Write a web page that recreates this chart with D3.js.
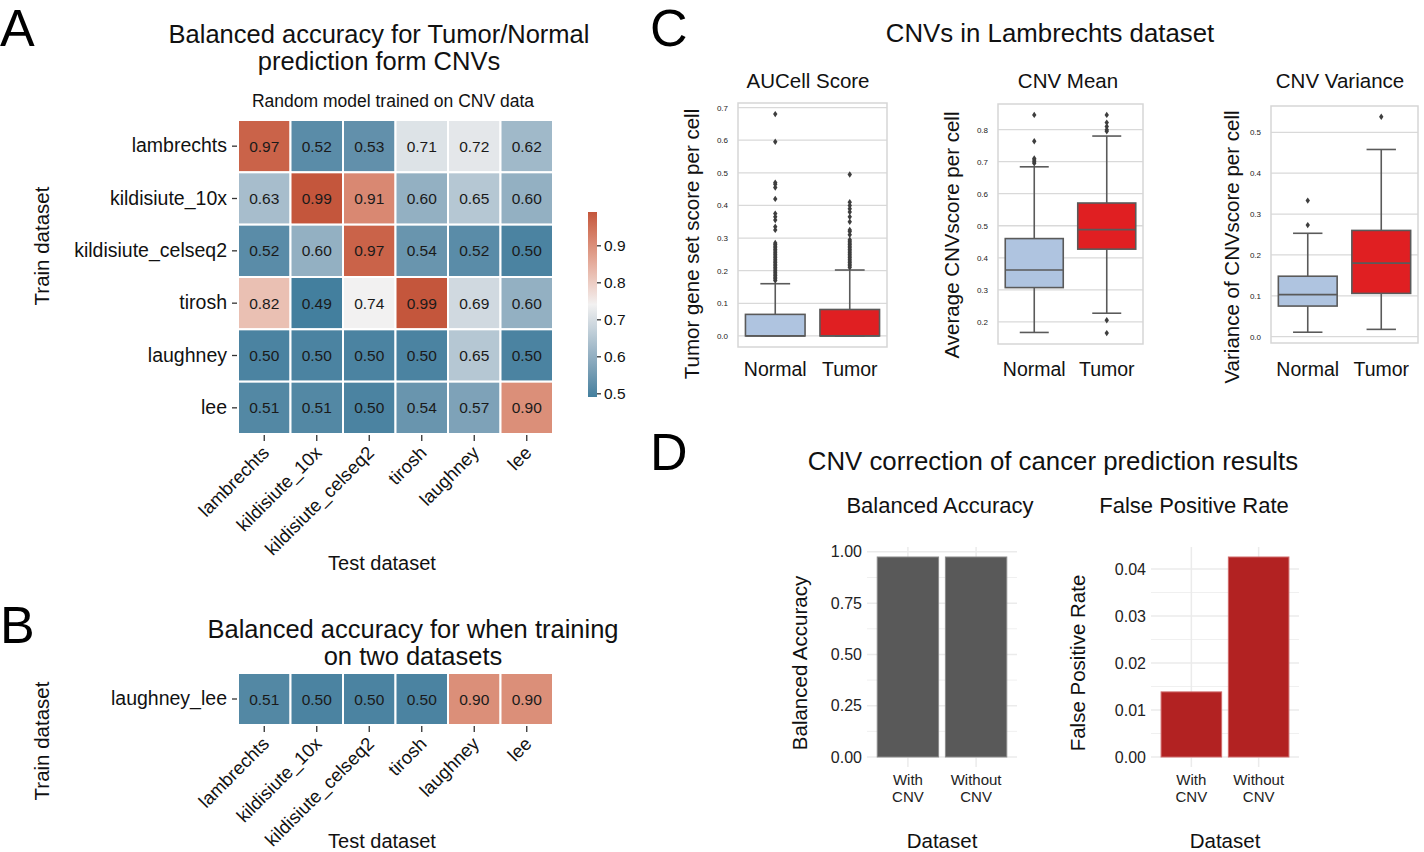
<!DOCTYPE html>
<html><head><meta charset="utf-8">
<script src="https://cdn.jsdelivr.net/npm/d3@7"></script>
<style>
body{margin:0;background:#fff}
svg{display:block}
text{font-family:"Liberation Sans",Arial,Helvetica,sans-serif}
</style>
</head><body>
<svg id="fig" width="1424" height="852"></svg>
<script>
// ---------------- DATA ----------------
const datasets = ["lambrechts","kildisiute_10x","kildisiute_celseq2","tirosh","laughney","lee"];
const accA = [
  [0.97,0.52,0.53,0.71,0.72,0.62],
  [0.63,0.99,0.91,0.60,0.65,0.60],
  [0.52,0.60,0.97,0.54,0.52,0.50],
  [0.82,0.49,0.74,0.99,0.69,0.60],
  [0.50,0.50,0.50,0.50,0.65,0.50],
  [0.51,0.51,0.50,0.54,0.57,0.90]
];
const trainB = ["laughney_lee"];
const accB = [[0.51,0.50,0.50,0.50,0.90,0.90]];
const colorbarTicks = [0.5,0.6,0.7,0.8,0.9];

const boxGroups = ["Normal","Tumor"];
// [lower whisker, Q1, median, Q3, upper whisker]
const aucellBox = [[0.00,0.00,0.00,0.066,0.160],[0.00,0.00,0.00,0.081,0.202]];
const aucellOut = [
  [0.170,0.175,0.180,0.185,0.190,0.195,0.200,0.205,0.210,0.215,0.220,0.225,0.230,0.235,0.240,0.245,0.250,0.255,0.260,0.265,0.270,0.275,0.280,0.285,0.325,0.335,0.355,0.365,0.375,0.420,0.455,0.465,0.470,0.595,0.680],
  [0.210,0.215,0.220,0.225,0.230,0.235,0.240,0.245,0.250,0.255,0.260,0.265,0.270,0.275,0.280,0.285,0.290,0.295,0.310,0.320,0.325,0.350,0.365,0.380,0.390,0.400,0.410,0.495]
];
const aucellTicks = [0.0,0.1,0.2,0.3,0.4,0.5,0.6,0.7];

const cnvMeanBox = [[0.167,0.307,0.362,0.460,0.684],[0.227,0.427,0.488,0.571,0.780]];
const cnvMeanOut = [[0.695,0.700,0.705,0.710,0.764,0.846],[0.795,0.800,0.810,0.822,0.846,0.205,0.165]];
const cnvMeanTicks = [0.2,0.3,0.4,0.5,0.6,0.7,0.8];

const cnvVarBox = [[0.011,0.075,0.103,0.148,0.253],[0.018,0.106,0.180,0.260,0.458]];
const cnvVarOut = [[0.273,0.333],[0.538]];
const cnvVarTicks = [0.0,0.1,0.2,0.3,0.4,0.5];

const dCats = [["With","CNV"],["Without","CNV"]];
const balAcc = [0.975,0.975];
const fpr = [0.01385,0.04255];
const balTicks = [0.00,0.25,0.50,0.75,1.00];
const fprTicks = [0.00,0.01,0.02,0.03,0.04];

// ---------------- SETUP ----------------
const svg = d3.select("#fig");
svg.append("rect").attr("width",1424).attr("height",852).attr("fill","#fff");

function txt(x,y,s,size,opts={}){
  const t = svg.append("text").attr("x",x).attr("y",y).attr("font-size",size)
    .attr("text-anchor",opts.anchor||"middle").attr("fill",opts.fill||"#111").text(s);
  if(opts.rotate) t.attr("transform",`rotate(${opts.rotate},${x},${y})`);
  return t;
}

// panel letters
txt(0,46,"A",52,{anchor:"start",fill:"#000"});
txt(0,643,"B",52,{anchor:"start",fill:"#000"});
txt(650,46,"C",52,{anchor:"start",fill:"#000"});
txt(650,470,"D",52,{anchor:"start",fill:"#000"});

// ---------------- HEATMAPS ----------------
const ext = d3.extent(accA.flat());
const color = d3.scaleLinear().domain([ext[0],(ext[0]+ext[1])/2,ext[1]])
  .range(["#437f9e","#f2f1f1","#c4563c"]).interpolate(d3.interpolateLab);

function heatmap(rows, values, x0, x1, y0, y1){
  const x = d3.scaleBand().domain(datasets).range([x0,x1]);
  const y = d3.scaleBand().domain(rows).range([y0,y1]);
  const g = svg.append("g");
  const cells = [];
  rows.forEach((r,i)=>datasets.forEach((c,j)=>cells.push({r,c,v:values[i][j]})));
  g.selectAll("rect.cell").data(cells).join("rect").attr("class","cell")
    .attr("x",d=>x(d.c)).attr("y",d=>y(d.r)).attr("width",x.bandwidth()).attr("height",y.bandwidth())
    .attr("fill",d=>color(d.v)).attr("stroke","#fff").attr("stroke-width",2);
  g.selectAll("text.val").data(cells).join("text").attr("class","val")
    .attr("x",d=>x(d.c)+x.bandwidth()/2).attr("y",d=>y(d.r)+y.bandwidth()/2)
    .attr("dy","0.36em").attr("text-anchor","middle").attr("font-size",15.5).attr("fill","#1a1a1a")
    .text(d=>d3.format(".2f")(d.v));
  const ya = g.append("g").attr("transform",`translate(${x0-1},0)`)
    .call(d3.axisLeft(y).tickSize(5).tickPadding(5));
  ya.select(".domain").remove();
  ya.selectAll("line").attr("stroke","#333").attr("stroke-width",1.3);
  ya.selectAll("text").attr("font-size",19.5).attr("fill","#111");
  const xa = g.append("g").attr("transform",`translate(0,${y1+1})`)
    .call(d3.axisBottom(x).tickSize(6).tickPadding(3));
  xa.select(".domain").remove();
  xa.selectAll("line").attr("stroke","#333").attr("stroke-width",1.3);
  xa.selectAll("text").attr("font-size",18.5).attr("fill","#111")
    .attr("text-anchor","end").attr("x",0).attr("y",0).attr("dy","0")
    .attr("transform","translate(6,19) rotate(-45)");
  return {x,y};
}

// Panel A
txt(379,43,"Balanced accuracy for Tumor/Normal",25.5);
txt(379,70,"prediction form CNVs",25.5);
txt(393,107,"Random model trained on CNV data",17.5);
heatmap(datasets, accA, 238, 553, 120, 434);
txt(382,570,"Test dataset",20);
txt(49,246,"Train dataset",20.5,{rotate:-90});

// colorbar
(function(){
  const cb = d3.scaleLinear().domain(ext).range([397,212]);
  const defs = svg.append("defs");
  const lg = defs.append("linearGradient").attr("id","cbg").attr("x1",0).attr("x2",0).attr("y1",1).attr("y2",0);
  d3.range(0,1.0001,0.05).forEach(t=>{
    lg.append("stop").attr("offset",t).attr("stop-color",color(ext[0]+t*(ext[1]-ext[0])));
  });
  svg.append("rect").attr("x",588).attr("y",212).attr("width",9).attr("height",185).attr("fill","url(#cbg)");
  const ax = svg.append("g").attr("transform","translate(597,0)")
    .call(d3.axisRight(cb).tickValues(colorbarTicks).tickSize(4).tickPadding(3).tickFormat(d3.format(".1f")));
  ax.select(".domain").remove();
  ax.selectAll("line").attr("stroke","#333").attr("stroke-width",1.3);
  ax.selectAll("text").attr("font-size",15.5).attr("fill","#111");
})();

// Panel B
txt(413,638,"Balanced accuracy for when training",25.5);
txt(413,665,"on two datasets",25.5);
heatmap(trainB, accB, 238, 553, 673, 725);
txt(382,848,"Test dataset",20);
txt(49,741,"Train dataset",20.5,{rotate:-90});

// ---------------- PANEL C: BOXPLOTS ----------------
txt(1050,42,"CNVs in Lambrechts dataset",25.8);
const boxFill = ["#afc4e0","#e01f22"];
function boxPanel(x0,x1,y0,y1,stats,outs,ticks,title,titleX,ylabel,ylx,yly){
  const vals = stats.flat().concat(outs.flat());
  const [lo,hi] = d3.extent(vals);
  const pad = (hi-lo)*0.05;
  const y = d3.scaleLinear().domain([lo-pad,hi+pad]).range([y1,y0]);
  const x = d3.scaleBand().domain(boxGroups).range([x0,x1]).paddingInner(0.2).paddingOuter(0.1);
  const g = svg.append("g");
  g.selectAll("line.grid").data(ticks).join("line").attr("class","grid")
    .attr("x1",x0).attr("x2",x1).attr("y1",d=>y(d)).attr("y2",d=>y(d))
    .attr("stroke","#d9d9d9").attr("stroke-width",1.3);
  g.append("rect").attr("x",x0).attr("y",y0).attr("width",x1-x0).attr("height",y1-y0)
    .attr("fill","none").attr("stroke","#d6d6d6").attr("stroke-width",1.5);
  const ya = g.append("g").attr("transform",`translate(${x0},0)`)
    .call(d3.axisLeft(y).tickValues(ticks).tickSize(0).tickPadding(10).tickFormat(d3.format(".1f")));
  ya.select(".domain").remove();
  ya.selectAll("text").attr("font-size",8).attr("fill","#222");
  boxGroups.forEach((grp,i)=>{
    const s = stats[i];
    const bx = x(grp), bw = x.bandwidth(), cx = bx+bw/2;
    const lc = "#5a5a5a";
    g.append("line").attr("x1",cx).attr("x2",cx).attr("y1",y(s[3])).attr("y2",y(s[4])).attr("stroke",lc).attr("stroke-width",1.6);
    g.append("line").attr("x1",cx).attr("x2",cx).attr("y1",y(s[1])).attr("y2",y(s[0])).attr("stroke",lc).attr("stroke-width",1.6);
    g.append("line").attr("x1",cx-bw/4).attr("x2",cx+bw/4).attr("y1",y(s[4])).attr("y2",y(s[4])).attr("stroke",lc).attr("stroke-width",1.6);
    g.append("line").attr("x1",cx-bw/4).attr("x2",cx+bw/4).attr("y1",y(s[0])).attr("y2",y(s[0])).attr("stroke",lc).attr("stroke-width",1.6);
    g.append("rect").attr("x",bx).attr("y",y(s[3])).attr("width",bw).attr("height",Math.max(0,y(s[1])-y(s[3])))
      .attr("fill",boxFill[i]).attr("stroke",lc).attr("stroke-width",1.6);
    g.append("line").attr("x1",bx).attr("x2",bx+bw).attr("y1",y(s[2])).attr("y2",y(s[2])).attr("stroke",lc).attr("stroke-width",1.6);
    g.selectAll(null).data(outs[i]).join("path")
      .attr("d","M0,-3.2L2.2,0L0,3.2L-2.2,0Z")
      .attr("transform",d=>`translate(${cx},${y(d)})`).attr("fill","#3e3e3e");
    txt(cx,376,grp,19.5);
  });
  txt(titleX,88,title,20.5);
  txt(ylx,yly,ylabel,20.5,{rotate:-90});
}
boxPanel(738,887,103,347,aucellBox,aucellOut,aucellTicks,"AUCell Score",808,"Tumor gene set score per cell",699,244);
boxPanel(998,1143,104,344,cnvMeanBox,cnvMeanOut,cnvMeanTicks,"CNV Mean",1068,"Average CNVscore per cell",959,235);
boxPanel(1271,1418,106,343,cnvVarBox,cnvVarOut,cnvVarTicks,"CNV Variance",1340,"Variance of CNVscore per cell",1239,247);

// ---------------- PANEL D: BARS ----------------
txt(1053,470,"CNV correction of cancer prediction results",25.8);
function barPanel(x0,x1,y0,y1,vals,fill,stroke,ticks,fmt,title,titleX,ylabel,ylx){
  const mx = d3.max(vals), pad = mx*0.05;
  const y = d3.scaleLinear().domain([-pad,mx+pad]).range([y1,y0]);
  const n = vals.length;
  const xs = d3.scaleLinear().domain([0.4,n+0.6]).range([x0,x1]);
  const g = svg.append("g");
  const minor = d3.pairs(ticks).map(p=>(p[0]+p[1])/2);
  g.selectAll("line.mn").data(minor).join("line")
    .attr("x1",x0).attr("x2",x1).attr("y1",d=>y(d)).attr("y2",d=>y(d)).attr("stroke","#f0f0f0").attr("stroke-width",1);
  g.selectAll("line.mj").data(ticks).join("line")
    .attr("x1",x0).attr("x2",x1).attr("y1",d=>y(d)).attr("y2",d=>y(d)).attr("stroke","#ebebeb").attr("stroke-width",1.5);
  g.selectAll("line.vx").data(vals).join("line")
    .attr("x1",(d,i)=>xs(i+1)).attr("x2",(d,i)=>xs(i+1)).attr("y1",y0).attr("y2",y1).attr("stroke","#ebebeb").attr("stroke-width",1.5);
  g.selectAll("rect.bar").data(vals).join("rect")
    .attr("x",(d,i)=>xs(i+1-0.45)).attr("width",xs(1.45)-xs(0.55))
    .attr("y",d=>y(d)).attr("height",d=>y(0)-y(d)).attr("fill",fill).attr("stroke",stroke).attr("stroke-width",1);
  const ya = g.append("g").attr("transform",`translate(${x0},0)`)
    .call(d3.axisLeft(y).tickValues(ticks).tickSize(0).tickPadding(5).tickFormat(d3.format(fmt)));
  ya.select(".domain").remove();
  ya.selectAll("text").attr("font-size",16).attr("fill","#222");
  dCats.forEach((c,i)=>{
    txt(xs(i+1),785,c[0],15,{fill:"#222"});
    txt(xs(i+1),802,c[1],15,{fill:"#222"});
  });
  txt(titleX,513,title,22);
  txt((x0+x1)/2,848,"Dataset",20.5);
  txt(ylx,(y0+y1)/2+6,ylabel,20.5,{rotate:-90});
}
barPanel(867,1017,547,767,balAcc,"#595959","#8a8a8a",balTicks,".2f","Balanced Accuracy",940,"Balanced Accuracy",807);
barPanel(1151,1299,547,767,fpr,"#b22222","#cf6a6a",fprTicks,".2f","False Positive Rate",1194,"False Positive Rate",1085);
</script>
</body></html>
